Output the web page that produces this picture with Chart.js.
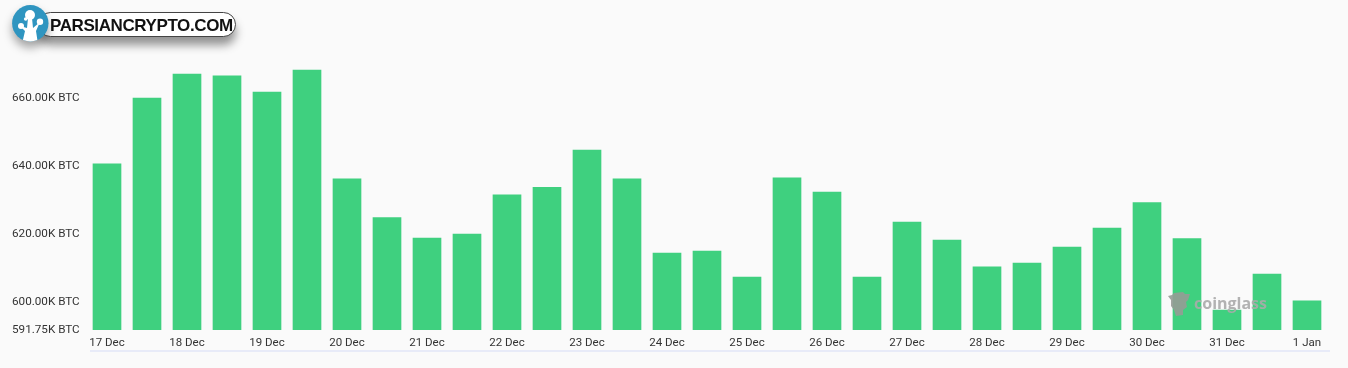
<!DOCTYPE html>
<html>
<head>
<meta charset="utf-8">
<title>BTC balance</title>
<script src="https://cdn.jsdelivr.net/npm/chart.js@4"></script>
<style>
    html, body { margin: 0; padding: 0; background: #fafafa; width: 1348px; height: 368px; overflow: hidden; }
    #wrap { position: relative; width: 1348px; height: 368px; }
    #balanceChart { position: absolute; left: 0; top: 0; }
    #pill {
        position: absolute; left: 38px; top: 12px; width: 198px; height: 25px; box-sizing: border-box;
        background: #fff; border: 1px solid #444; border-radius: 13px;
        box-shadow: 0 8px 10px rgba(0, 0, 0, 0.42);
    }
    #pillText {
        position: absolute; left: 50px; top: 14px;
        font: bold 17px "Liberation Sans", Arial, sans-serif; color: #111;
        line-height: 23px; letter-spacing: -0.4px; white-space: nowrap;
    }
    #badge { position: absolute; left: 11px; top: 4px; filter: drop-shadow(0 6px 5px rgba(0, 0, 0, 0.35)); }
    #mark { position: absolute; left: 1167px; top: 291px; }
    #markText {
        position: absolute; left: 1194px; top: 292px;
        font: bold 16px "Open Sans", sans-serif; color: rgba(170, 170, 170, 0.9);
    }
</style>
</head>
<body>
<div id="wrap">
    <canvas id="balanceChart" width="1348" height="368"></canvas>
    <div id="pill"></div>
    <svg id="badge" width="38" height="40" viewBox="0 0 38 40">
        <defs><clipPath id="disc"><circle cx="19.3" cy="19.3" r="18.2"/></clipPath></defs>
        <circle cx="19.3" cy="19.3" r="18.2" fill="#2f95c0"/>
        <path d="M11 40 L14 27 L9 22 L16 24 L17 14 L21 14 L22 24 L29 18 L25 27 L27 40 Z" fill="#fff" clip-path="url(#disc)"/>
        <circle cx="19" cy="11" r="5" fill="#fff"/>
        <circle cx="10" cy="22" r="3" fill="#fff"/>
        <circle cx="29" cy="17.7" r="3.2" fill="#fff"/>
        <circle cx="14.7" cy="15" r="1.8" fill="#fff"/>
    </svg>
    <div id="pillText">PARSIANCRYPTO.COM</div>
    <svg id="mark" width="24" height="26" viewBox="0 0 24 26">
        <path d="M1 5 L5 4 L7 2 L16 1 L18 3 L23 3 L21 9 L19 11 L20 16 L16 19 L16 24 L9 25 L7 19 L4 15 L4 9 Z" fill="rgba(150,155,150,0.9)"/>
    </svg>
    <div id="markText">coinglass</div>
</div>
<script>
// one bar every 12 hours, only the midnight bars get a label
const categories = ['17 Dec', '', '18 Dec', '', '19 Dec', '', '20 Dec', '', '21 Dec', '', '22 Dec', '', '23 Dec', '', '24 Dec', '', '25 Dec', '', '26 Dec', '', '27 Dec', '', '28 Dec', '', '29 Dec', '', '30 Dec', '', '31 Dec', '', '1 Jan'];
const balances = [640.6, 660.0, 667.0, 666.5, 661.75, 668.2, 636.2, 624.8, 618.8, 620.0, 631.5, 633.7, 644.7, 636.2, 614.4, 615.0, 607.3, 636.5, 632.35, 607.3, 623.5, 618.2, 610.3, 611.45, 616.15, 621.75, 629.25, 618.65, 597.6, 608.2, 600.3];
const yTicks = [591.75, 600, 620, 640, 660];
const yMin = 591.75;
const yMax = 680;

// thin rule under the date labels
const bottomRule = {
    id: 'bottomRule',
    beforeDraw(chart) {
        const c = chart.ctx;
        c.save();
        c.fillStyle = '#e8ebf8';
        c.fillRect(90, 350, 1240, 2);
        c.restore();
    }
};

const balanceChart = new Chart(document.getElementById('balanceChart').getContext('2d'), {
    type: 'bar',
    data: {
        labels: categories,
        datasets: [{
            label: 'Balance',
            data: balances,
            backgroundColor: '#3fd07f',
            barThickness: 28
        }]
    },
    options: {
        responsive: false,
        animation: false,
        layout: { padding: { top: 30, right: 21, left: 12, bottom: 0 } },
        plugins: { legend: { display: false }, tooltip: { enabled: false } },
        scales: {
            x: {
                grid: { display: false, drawTicks: false },
                border: { display: false },
                afterFit: axis => { axis.height = 38; },
                ticks: {
                    autoSkip: false,
                    maxRotation: 0,
                    padding: 6,
                    color: '#333',
                    font: { family: 'Roboto', size: 11.5 }
                }
            },
            y: {
                min: yMin,
                max: yMax,
                grid: { display: false, drawTicks: false },
                border: { display: false },
                afterFit: axis => { axis.width = 75; },
                afterBuildTicks: axis => { axis.ticks = yTicks.map(v => ({ value: v })); },
                ticks: {
                    crossAlign: 'far',
                    padding: 0,
                    color: '#333',
                    font: { family: 'Roboto', size: 11.7 },
                    callback: v => v.toFixed(2) + 'K BTC'
                }
            }
        }
    },
    plugins: [bottomRule]
});
</script>
</body>
</html>
